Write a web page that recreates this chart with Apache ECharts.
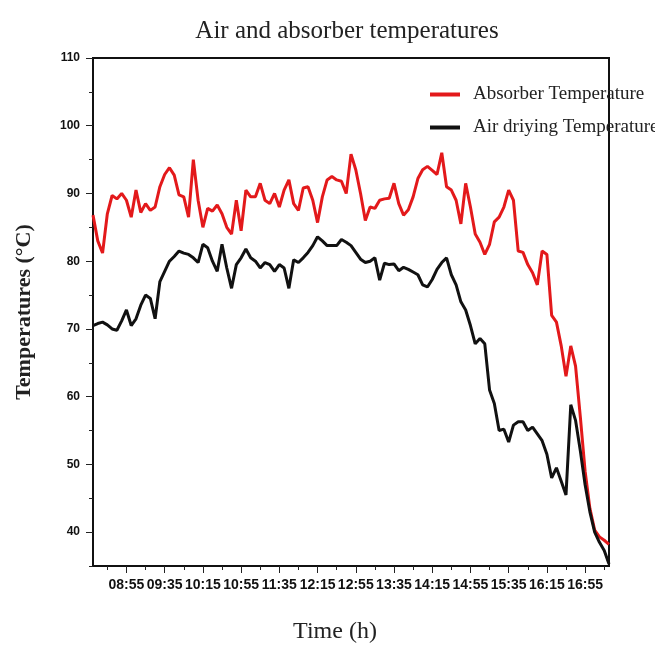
<!DOCTYPE html>
<html>
<head>
<meta charset="utf-8">
<title>Air and absorber temperatures</title>
<script src="https://cdn.jsdelivr.net/npm/echarts@6/dist/echarts.min.js"></script>
<style>
  html, body { margin: 0; padding: 0; background: #fff; }
  #chart { width: 655px; height: 649px; }
</style>
</head>
<body>
<div id="chart"></div>
<script>
// time of day, every 5 minutes from 08:20 to 17:20
var times = [];
for (var m = 8 * 60 + 20; m <= 17 * 60 + 20; m += 5) {
  var h = Math.floor(m / 60), mm = m % 60;
  times.push((h < 10 ? '0' : '') + h + ':' + (mm < 10 ? '0' : '') + mm);
}

var absorberTemp = [
  86.8, 83.0, 81.2, 87.0, 89.7, 89.2, 90.0, 89.0, 86.5, 90.5,
  87.2, 88.5, 87.5, 88.0, 91.0, 92.8, 93.8, 92.7, 89.8, 89.5,
  86.5, 95.0, 89.0, 85.0, 87.8, 87.4, 88.3, 87.0, 85.0, 84.0,
  89.0, 84.5, 90.5, 89.5, 89.5, 91.5, 89.0, 88.5, 90.0, 88.0,
  90.5, 92.0, 88.5, 87.5, 90.8, 91.0, 89.0, 85.7, 89.5, 92.0,
  92.5, 92.0, 91.8, 90.0, 95.8, 93.5, 90.0, 86.0, 88.0, 87.8,
  89.0, 89.2, 89.3, 91.5, 88.5, 86.8, 87.6, 89.5, 92.2, 93.5,
  94.0, 93.4, 92.8, 96.0, 91.0, 90.5, 89.0, 85.5, 91.5, 88.0,
  84.0, 82.8, 81.0, 82.5, 85.8, 86.5, 88.0, 90.5, 89.0, 81.5,
  81.3, 79.5, 78.3, 76.5, 81.5, 81.0, 72.0, 71.0, 67.5, 63.0,
  67.5, 64.5, 57.0, 49.0, 43.5, 40.3, 39.3, 38.8, 38.2
];

var airTemp = [
  70.5, 70.8, 71.0, 70.6, 70.0, 69.8, 71.2, 72.8, 70.5, 71.5,
  73.5, 75.0, 74.5, 71.5, 77.0, 78.5, 80.0, 80.7, 81.5, 81.2,
  81.0, 80.5, 79.8, 82.5, 82.0, 80.0, 78.5, 82.5, 79.0, 76.0,
  79.5, 80.5, 81.8, 80.5, 80.0, 79.0, 79.8, 79.5, 78.5, 79.5,
  79.0, 76.0, 80.2, 79.8, 80.5, 81.3, 82.3, 83.6, 83.0, 82.3,
  82.3, 82.3, 83.2, 82.8, 82.3, 81.3, 80.3, 79.8, 80.0, 80.5,
  77.2, 79.7, 79.5, 79.6, 78.6, 79.1, 78.8, 78.4, 78.0, 76.5,
  76.2, 77.3, 78.8, 79.8, 80.5, 78.0, 76.5, 74.0, 72.8, 70.5,
  67.8, 68.6, 67.8, 61.0, 59.0, 55.0, 55.2, 53.3, 55.8, 56.3,
  56.3, 55.0, 55.5, 54.5, 53.5, 51.5, 48.0, 49.5, 47.5, 45.5,
  58.8, 56.5, 52.0, 47.0, 43.0, 40.0, 38.5, 37.3, 35.3
];

var yTicks = [40, 50, 60, 70, 80, 90, 100, 110];

var chart = echarts.init(document.getElementById('chart'));

var option = {
  backgroundColor: '#fff',
  animation: false,
  title: {
    text: 'Air and absorber temperatures',
    left: 342,
    textAlign: 'center',
    top: 14,
    textStyle: {
      fontFamily: 'Liberation Serif',
      fontWeight: 'normal',
      fontSize: 25,
      color: '#222'
    }
  },
  legend: {
    left: 425,
    top: 80,
    orient: 'vertical',
    icon: 'rect',
    itemWidth: 30,
    itemHeight: 4,
    itemGap: 14,
    data: ['Absorber Temperature', 'Air driying Temperature'],
    textStyle: {
      fontFamily: 'Liberation Serif',
      fontSize: 19,
      color: '#222',
      padding: [0, 0, 0, 8]
    }
  },
  grid: {
    left: 93,
    top: 58,
    right: 46,
    bottom: 83,
    show: true,
    borderColor: '#111',
    borderWidth: 2
  },
  xAxis: [
    {
      type: 'category',
      data: times,
      boundaryGap: false,
      name: 'Time (h)',
      nameLocation: 'middle',
      nameGap: 54,
      nameTextStyle: {
        fontFamily: 'Liberation Serif',
        fontSize: 24,
        color: '#222',
        padding: [0, 32, 0, 0]
      },
      axisLine: { lineStyle: { color: '#111', width: 2 } },
      axisTick: {
        length: 7,
        lineStyle: { color: '#222', width: 1 },
        interval: function (i) { return (i - 7) % 8 === 0; }
      },
      axisLabel: {
        interval: function (i) { return (i - 7) % 8 === 0; },
        margin: 12,
        fontFamily: 'Liberation Sans Narrow, Liberation Sans',
        fontWeight: 'bold',
        fontSize: 14,
        color: '#111'
      },
      splitLine: { show: false }
    },
    {
      type: 'category',
      data: times,
      boundaryGap: false,
      position: 'bottom',
      axisLine: { show: false },
      axisTick: {
        length: 4,
        lineStyle: { color: '#222', width: 1 },
        interval: function (i) { return (i - 3) % 8 === 0; }
      },
      axisLabel: { show: false },
      splitLine: { show: false }
    }
  ],
  yAxis: [
    {
      type: 'value',
      min: 35,
      max: 110,
      interval: 5,
      name: 'Temperatures (°C)',
      nameLocation: 'middle',
      nameGap: 58,
      nameTextStyle: {
        fontFamily: 'Liberation Serif',
        fontWeight: 'bold',
        fontSize: 22,
        color: '#222'
      },
      axisLine: { show: true, lineStyle: { color: '#111', width: 2 } },
      axisTick: { show: true, length: 4, lineStyle: { color: '#222' } },
      axisLabel: {
        customValues: yTicks,
        margin: 13,
        fontFamily: 'Liberation Sans',
        fontWeight: 'bold',
        fontSize: 12,
        color: '#111'
      },
      splitLine: { show: false }
    },
    {
      type: 'value',
      min: 35,
      max: 110,
      position: 'left',
      axisLine: { show: false },
      axisTick: { show: true, customValues: yTicks, length: 7, lineStyle: { color: '#222' } },
      axisLabel: { show: false },
      splitLine: { show: false }
    }
  ],
  series: [
    {
      name: 'Absorber Temperature',
      type: 'line',
      data: absorberTemp,
      showSymbol: false,
      symbol: 'none',
      lineStyle: { color: '#e3191b', width: 3 },
      itemStyle: { color: '#e3191b' }
    },
    {
      name: 'Air driying Temperature',
      type: 'line',
      data: airTemp,
      showSymbol: false,
      symbol: 'none',
      lineStyle: { color: '#111', width: 3 },
      itemStyle: { color: '#111' }
    }
  ]
};

chart.setOption(option);
</script>
</body>
</html>
